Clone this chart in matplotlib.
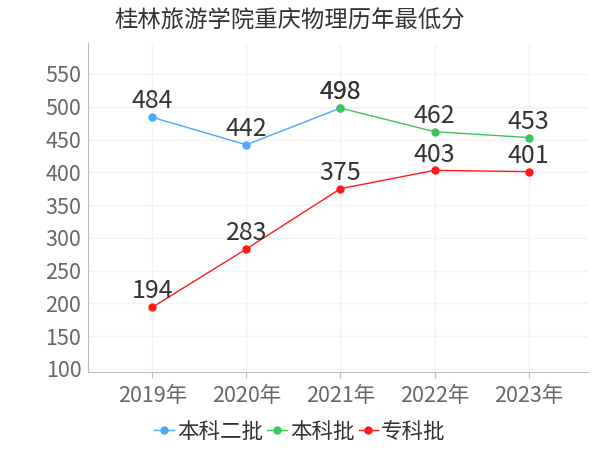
import matplotlib
matplotlib.use('Agg')
import matplotlib.pyplot as plt

plt.rcParams['font.family'] = ['Noto Sans CJK SC', 'DejaVu Sans']

years = ['2019年', '2020年', '2021年', '2022年', '2023年']
benke2_x = [0, 1, 2]
benke2 = [484, 442, 498]
benke_x = [2, 3, 4]
benke = [498, 462, 453]
zhuanke_x = [0, 1, 2, 3, 4]
zhuanke = [194, 283, 375, 403, 401]

fig = plt.figure(figsize=(6, 4.5), dpi=100)
ax = fig.add_axes([0.147, 0.173, 0.833, 0.731])

series = [
    (benke2_x, benke2, '#4da6ff', '本科二批'),
    (benke_x, benke, '#3cc45a', '本科批'),
    (zhuanke_x, zhuanke, '#ff1a1a', '专科批'),
]
for xs, ys, c, name in series:
    ax.plot(xs, ys, color=c, lw=1, marker='o', ms=5, label=name)
    for x, y in zip(xs, ys):
        ax.annotate(str(y), (x, y), xytext=(0, 2), textcoords='offset points',
                    ha='center', va='bottom', fontsize=18, color='#333333')

ax.set_xlim(-0.68, 4.63)
ax.set_ylim(95, 597)
ax.set_yticks(range(100, 551, 50))
ax.set_xticks(range(len(years)))
ax.set_xticklabels(years)
ax.tick_params(axis='both', labelsize=15.5, colors='#666666', length=0, pad=5)
ax.tick_params(axis='x', length=4, color='#bbbbbb')
ax.grid(True, color='#f2f2f2', lw=1)
ax.set_axisbelow(True)
for s in ['top', 'right']:
    ax.spines[s].set_visible(False)
ax.spines['left'].set_color('#bbbbbb')
ax.spines['bottom'].set_color('#bbbbbb')

fig.text(0.483, 0.952, '桂林旅游学院重庆物理历年最低分', ha='center', va='center',
         fontsize=16.8, color='#333333')

fig.legend(loc='center', bbox_to_anchor=(0.5, 0.04), ncol=3, frameon=False,
           fontsize=15.5, handlelength=0.9, handletextpad=0.15, columnspacing=0.2,
           labelcolor='#333333')

fig.savefig('out.png', dpi=100)
